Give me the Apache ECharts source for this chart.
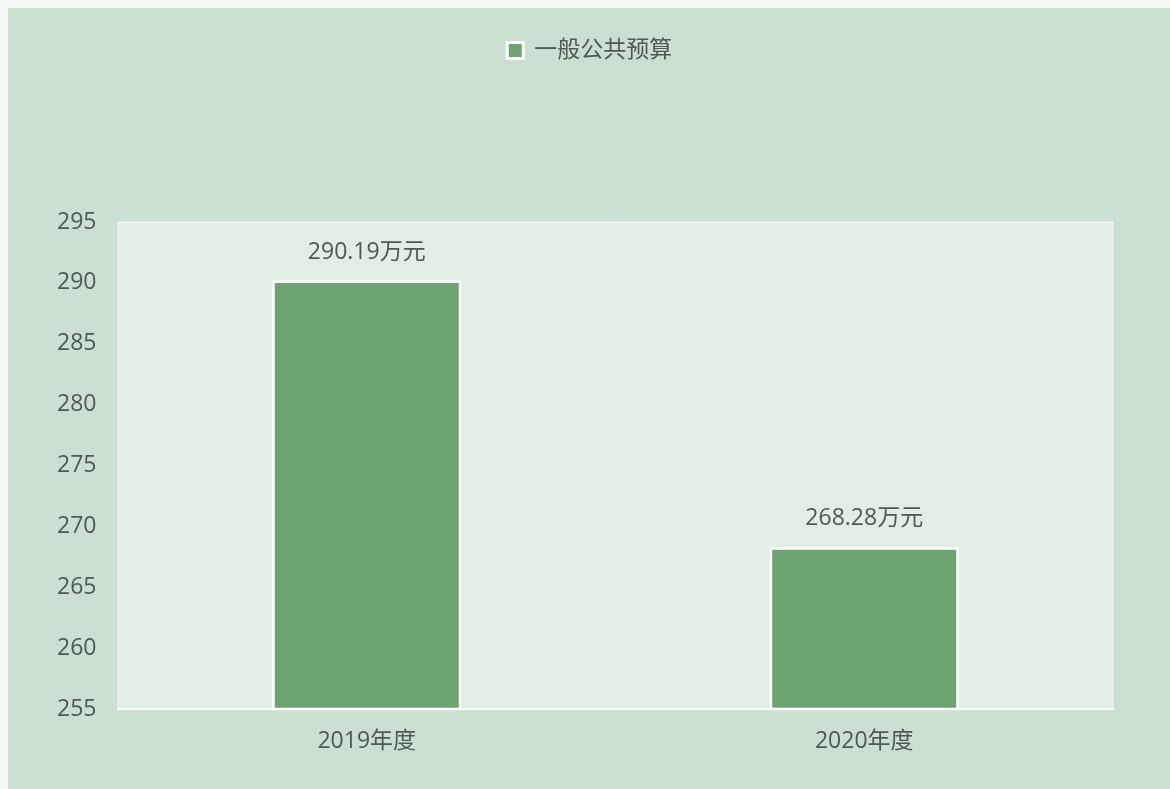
<!DOCTYPE html>
<html>
<head>
<meta charset="utf-8">
<script src="https://cdn.jsdelivr.net/npm/echarts@6/dist/echarts.min.js"></script>
<style>
  html, body { margin: 0; padding: 0; background: #f4f8f5; }
  #chart { position: absolute; left: 8px; top: 8px; width: 1162px; height: 781px; background: #cae0d0; }
</style>
</head>
<body>
<div id="chart"></div>
<script>
// 一般公共预算 by year
const categories = ['2019年度', '2020年度'];
const budgetValues = [290.19, 268.28];
const seriesName = '一般公共预算';

const chart = echarts.init(document.getElementById('chart'));

const textColor = '#4f5a54';
const fontFamily = '"Open Sans", "Noto Sans CJK SC", sans-serif';

chart.setOption({
  textStyle: { fontFamily: fontFamily },
  legend: {
    data: [seriesName],
    top: 26,
    left: 'center',
    itemWidth: 16,
    itemHeight: 16,
    itemGap: 6,
    icon: 'rect',
    itemStyle: { borderColor: '#ffffff', borderWidth: 3 },
    textStyle: { color: textColor, fontSize: 23, fontFamily: fontFamily, padding: [0, 0, 0, 6] }
  },
  grid: {
    left: 110,
    right: 57,
    top: 214,
    bottom: 80,
    show: true,
    backgroundColor: 'rgba(255,255,255,0.45)',
    borderColor: 'rgba(255,255,255,0.75)',
    borderWidth: 1
  },
  xAxis: {
    type: 'category',
    data: categories,
    axisLine: { show: true, lineStyle: { color: '#ffffff', width: 2 } },
    axisTick: { show: false },
    axisLabel: { color: textColor, fontSize: 23, margin: 21, fontFamily: fontFamily }
  },
  yAxis: {
    type: 'value',
    min: 255,
    max: 295,
    interval: 5,
    axisLine: { show: false },
    axisTick: { show: false },
    splitLine: { show: false },
    axisLabel: { color: textColor, fontSize: 23, margin: 61, align: 'left', fontFamily: fontFamily }
  },
  series: [
    {
      name: seriesName,
      type: 'bar',
      data: budgetValues,
      barWidth: '38%',
      itemStyle: {
        color: '#6ea372',
        borderColor: '#ffffff',
        borderWidth: 2.5
      },
      label: {
        show: true,
        position: 'top',
        distance: 17,
        color: textColor,
        fontSize: 23,
        fontFamily: fontFamily,
        formatter: (p) => p.value.toFixed(2) + '万元'
      }
    }
  ]
});
</script>
</body>
</html>
